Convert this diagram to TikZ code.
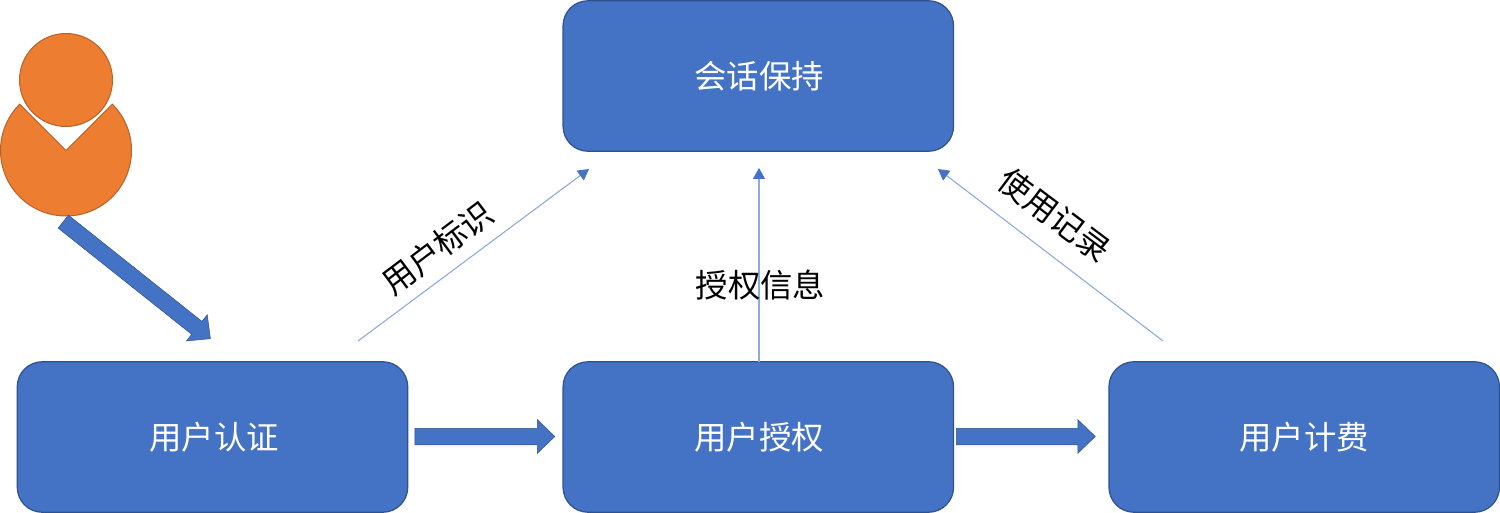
\documentclass[tikz,border=0pt]{standalone}
\usepackage{fontspec}
\setmainfont{Noto Sans CJK SC}
\usetikzlibrary{shapes.arrows,arrows.meta}
\definecolor{boxblue}{HTML}{4472C4}
\definecolor{boxedge}{HTML}{2F528F}
\definecolor{thinblue}{HTML}{8FAADC}
\definecolor{orangefill}{HTML}{ED7D31}
\definecolor{orangeedge}{HTML}{B5622B}
\tikzset{
 stepbox/.style={draw=boxedge,fill=boxblue,line width=1.2pt,rounded corners=25pt,minimum width=390.5pt,minimum height=150.5pt,inner sep=0pt,outer sep=0pt,text=white,font=\fontsize{32.4}{36}\selectfont},
 blockarrow/.style={single arrow,draw=boxedge,fill=boxblue,line width=.5pt,inner xsep=0pt,inner ysep=8pt,outer sep=0pt,single arrow head extend=8.5pt,single arrow tip angle=88},
 thinarrow/.style={draw=thinblue,line width=1.1pt,-{Triangle[length=11pt,width=12pt,fill=boxblue,color=boxblue]}},
 lbl/.style={inner sep=0pt,font=\fontsize{32.4}{36}\selectfont,text=black},
 persona/.style={draw=orangeedge,fill=orangefill,line width=1pt}
}
\begin{document}
\begin{tikzpicture}[x=1pt,y=-1pt]
\useasboundingbox (0,0) rectangle (1500,513);
\node[stepbox] (session) at (758.3,76) {\kern2pt 会话保持};
\node[stepbox] (auth) at (212.5,437) {\kern3pt 用户认证};
\node[stepbox] (grant) at (758.3,437) {\kern2pt 用户授权};
\node[stepbox] (bill) at (1304.2,437) {用户计费};
% person
\node[persona,circle,minimum size=93pt,inner sep=0pt,outer sep=0pt] (head) at (66,80) {};
\coordinate (bodyc) at (66,150.5);
\filldraw[persona] (bodyc) -- ++(45:65.5pt) arc[start angle=45,end angle=-225,radius=65.5pt] -- cycle;
% block arrows
\node[blockarrow,minimum height=140pt] (a1) at (480.5,436.5) {};
\node[blockarrow,minimum height=139pt] (a2) at (1021.5,436.5) {};
\node[blockarrow,minimum height=188pt,rotate=-38.5] (a0) at (133.5,277.5) {};
% thin connectors
\coordinate (s1) at (358,341);
\coordinate (e1) at (589,169);
\coordinate (e2) at (759,168);
\coordinate (s3) at (1163,341);
\coordinate (e3) at (938,169);
\draw[thinarrow] (s1) -- (e1);
\draw[thinarrow] (grant.north -| e2) -- (e2);
\draw[thinarrow] (s3) -- (e3);
% labels
\node[lbl,rotate=37] (l1) at (437.5,248) {用户标识};
\node[lbl] (l2) at (760.5,285) {授权信息};
\node[lbl,rotate=-37] (l3) at (1055,215) {使用记录};
\end{tikzpicture}
\end{document}
